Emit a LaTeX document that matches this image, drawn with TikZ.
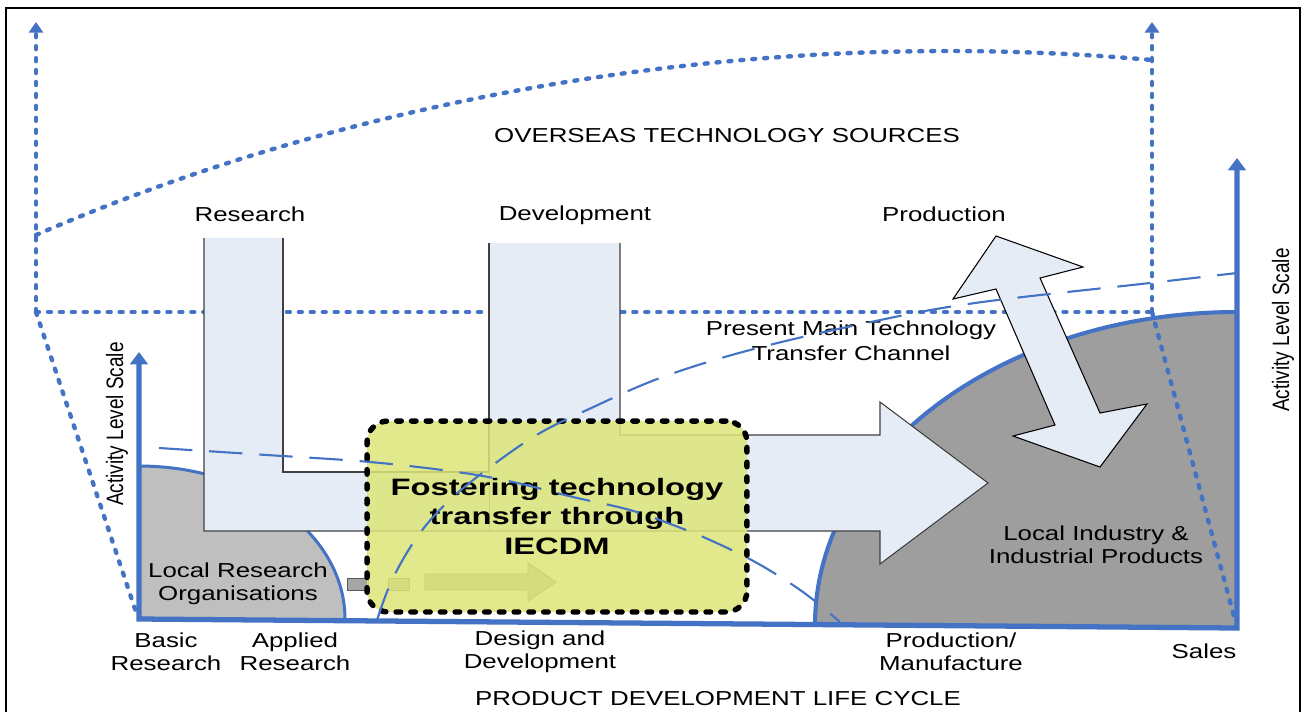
\documentclass[tikz,border=0pt]{standalone}
\usepackage{fontspec}
\setmainfont{Liberation Sans}
\usetikzlibrary{arrows.meta}
\definecolor{lineblue}{RGB}{68,114,196}
\definecolor{arrowfill}{RGB}{230,236,246}
\definecolor{boxyellow}{RGB}{220,230,120}
\definecolor{greyA}{RGB}{191,191,191}
\definecolor{greyB}{RGB}{158,158,158}
\definecolor{smallgrey}{RGB}{166,166,166}
\newcommand\sx[1]{\scalebox{1.28}[1]{#1}}
\newcommand\bx[1]{\scalebox{1.38}[1]{#1}}
\newcommand\rx[1]{\scalebox{0.8}[1]{#1}}
\begin{document}
\begin{tikzpicture}[x=0.02cm, y=-0.02cm,
  dotline/.style={draw=lineblue, line width=2.5pt, dash pattern=on 1.7pt off 5.1pt, line cap=round},
  dotarrow/.style={dotline, -{Triangle[length=6pt,width=8pt]}},
  axisline/.style={draw=lineblue, line width=3pt, line join=miter},
  dashline/.style={draw=lineblue, line width=1.2pt, dash pattern=on 19pt off 9.6pt},
  bigarrow/.style={fill=arrowfill},
  arrowedge/.style={draw=black!75, line width=0.6pt},
  faintedge/.style={draw=black!60, line width=0.5pt},
  smallarrow/.style={fill=smallgrey, draw=black!65, line width=0.5pt},
  lbl/.style={font=\fontsize{11.5}{12.9}\selectfont, align=center, inner sep=0pt},
  ioffbox/.style={draw=black, line width=3.1pt, dash pattern=on 2.6pt off 5.8pt, line cap=round,
     fill=boxyellow, fill opacity=0.85, text opacity=1, rounded corners=0.42cm,
     minimum width=7.6cm, minimum height=3.82cm, inner sep=0pt, align=center,
     font=\fontsize{13.5}{17}\selectfont\bfseries}
]
\useasboundingbox (0,0) rectangle (1302,711);
\fill[white] (0,0) rectangle (1302,711);
% frame
\draw[line width=1.1pt] (6,730) -- (6,8) -- (1300,8) -- (1300,730);

% grey regions
\fill[greyA] (139,619) -- (139,466) .. controls (252.8,466) and (345,534.5) .. (345,619) -- cycle;
\draw[lineblue, line width=1.7pt] (139,466) .. controls (252.8,466) and (345,534.5) .. (345,619);
\fill[greyB] (815,625) .. controls (815,452) and (1004,312) .. (1237,312) -- (1237,628) -- cycle;
\draw[lineblue, line width=2.3pt] (815,625) .. controls (815,452) and (1004,312) .. (1237,312);

% dotted overseas structure
\draw[dotarrow] (36,312) -- (36,22);
\draw[dotarrow] (1152,312) -- (1152,22);
\draw[dotline] (36,235) .. controls (300,120) and (700,20) .. (1152,60);
\draw[dotline] (36,312) -- (1152,312);
\draw[dotline] (36,312) -- (137,615);
\draw[dotline] (1152,312) -- (1235,620);

% light blue research / development arrow
\fill[bigarrow] (204,238) -- (204,531) -- (880,531) -- (880,564) -- (988,483) -- (880,402) -- (880,435)
   -- (620,435) -- (620,243) -- (489,243) -- (489,472) -- (283,472) -- (283,238) -- cycle;
\draw[arrowedge] (283,238) -- (283,472) -- (489,472) -- (489,243);
\draw[arrowedge] (620,243) -- (620,435) -- (880,435) -- (880,402) -- (988,483) -- (880,564) -- (880,531) -- (204,531) -- (204,238);
\draw[faintedge] (489,472) -- (489,531);

% production double arrow
\filldraw[fill=arrowfill, draw=black, line width=0.6pt] (996,236) -- (1083,267) -- (1040,278) -- (1100,413) -- (1147,404)
   -- (1100,467) -- (1013,436) -- (1055,425) -- (996,289) -- (953,299) -- cycle;

% small grey arrows
\filldraw[smallarrow] (347,578) rectangle (368,590);
\filldraw[smallarrow] (388,578) rectangle (409,590);
\filldraw[smallarrow] (425,574) -- (528,574) -- (528,563) -- (556,582) -- (528,601) -- (528,590) -- (425,590) -- cycle;

% IECDM box
\node[ioffbox] (iecdm) at (557,516.5) {\bx{Fostering technology}\\\bx{transfer through}\\\bx{IECDM}};

% axes
\draw[axisline, {Triangle[length=7pt,width=10pt]}-{Triangle[length=7pt,width=10pt]}] (139,352) -- (139,619) -- (1237,628) -- (1237,158);

% texts
\node[lbl] (overseas) at (727,136) {\sx{OVERSEAS TECHNOLOGY SOURCES}};
\node[lbl] (research) at (250,214) {\sx{Research}};
\node[lbl] (development) at (575,215) {\sx{Development}};
\node[lbl] (production) at (944,214) {\sx{Production}};
\node[lbl, font=\fontsize{11.5}{14.2}\selectfont] (channel) at (851,341) {\sx{Present Main Technology}\\\sx{Transfer Channel}};
\node[lbl, rotate=90, font=\fontsize{13.5}{15}\selectfont] (actleft) at (117,424) {\rx{Activity Level Scale}};
\node[lbl, rotate=90, font=\fontsize{13.5}{15}\selectfont] (actright) at (1283,330) {\rx{Activity Level Scale}};
\node[lbl, font=\fontsize{11.5}{13}\selectfont] (localres) at (238,584) {\sx{Local Research}\\\sx{Organisations}};
\node[lbl, font=\fontsize{11.5}{13}\selectfont] (localind) at (1096,545) {\sx{Local Industry \&}\\\sx{Industrial Products}};
\node[lbl] (basic) at (166,652) {\sx{Basic}\\\sx{Research}};
\node[lbl] (applied) at (295,652) {\sx{Applied}\\\sx{Research}};
\node[lbl] (design) at (540,652) {\sx{Design and}\\\sx{Development}};
\node[lbl] (manuf) at (951,652) {\sx{Production/}\\\sx{Manufacture}};
\node[lbl] (sales) at (1204,651) {\sx{Sales}};
\node[lbl] (lifecycle) at (718,699) {\sx{PRODUCT DEVELOPMENT LIFE CYCLE}};

% long dashed curves
\draw[dashline] plot[smooth, tension=0.6] coordinates {(377,620) (393,578) (420,533) (453,497) (497,462) (540,433) (587,410) (660,378) (750,350) (866,323) (975,303) (1150,283) (1237,273)};
\draw[dashline] plot[smooth, tension=0.6] coordinates {(159,448) (267,455) (370,462) (457,472) (513,482) (573,497) (630,510) (673,525) (710,540) (757,563) (803,592) (840,622)};
\end{tikzpicture}
\end{document}
